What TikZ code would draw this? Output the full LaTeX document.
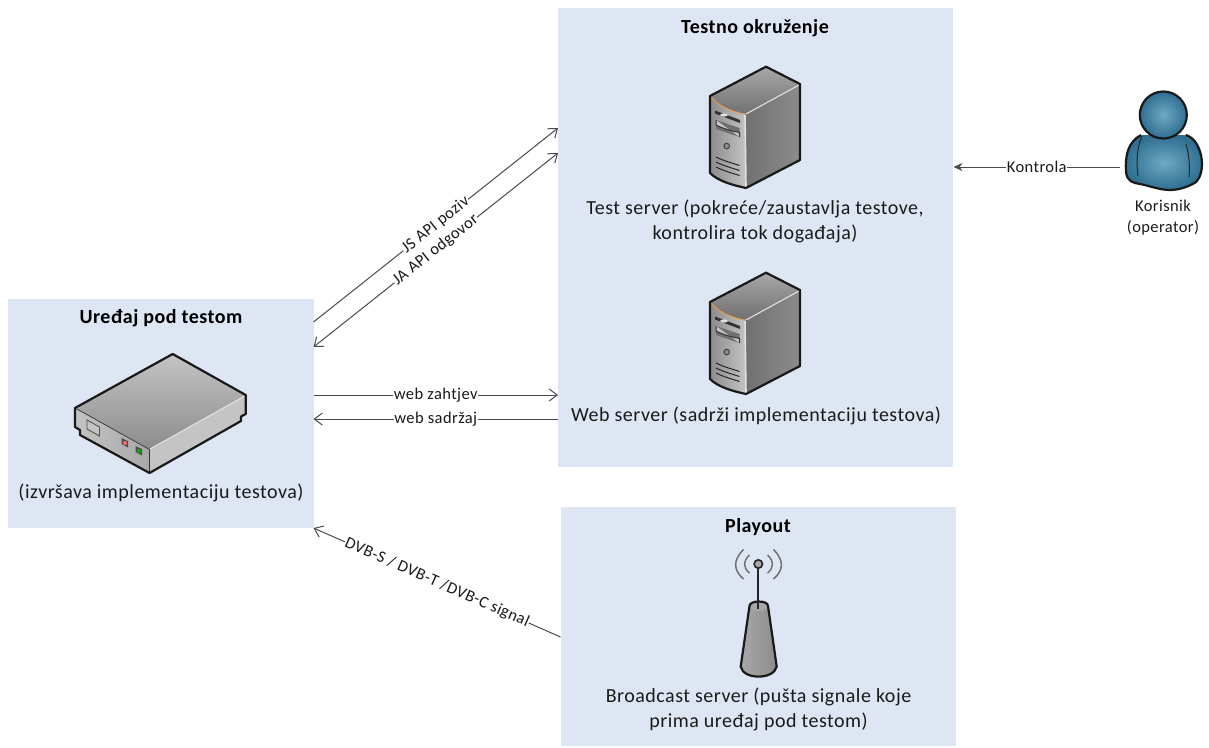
\documentclass[tikz,border=0pt]{standalone}
\usepackage{fontspec}
\setmainfont{Carlito}
\usetikzlibrary{arrows.meta}
\definecolor{panelblue}{HTML}{DFE6F3}
\definecolor{linegray}{HTML}{4A4A4A}
\definecolor{txt}{HTML}{1A1A1A}
\definecolor{pmid}{HTML}{6FA8C2}
\definecolor{pout}{HTML}{2F6F92}
\definecolor{g1}{HTML}{E0E0E0}
\definecolor{g2}{HTML}{C4C4C4}
\definecolor{g3}{HTML}{A8A8A8}
\definecolor{g4}{HTML}{8C8C8C}
\definecolor{g5}{HTML}{707070}
\definecolor{g6}{HTML}{505050}
\tikzset{
  panel/.style={fill=panelblue,draw=none,inner sep=0pt,outer sep=0pt},
  body/.style={font=\fontsize{20}{25}\selectfont\addfontfeature{LetterSpace=2.5},text=txt,inner sep=0pt,align=center},
  head/.style={font=\fontsize{20}{25}\selectfont\bfseries\addfontfeature{LetterSpace=2.5},text=black,inner sep=0pt,align=center},
  small/.style={font=\fontsize{16.5}{21}\selectfont\addfontfeature{LetterSpace=2.5},text=txt,inner sep=0pt,align=center},
  conn/.style={draw=linegray,line width=1pt,-{Straight Barb[length=8pt,width=12pt,line width=1pt]}},
  conn2/.style={draw=linegray,line width=1pt,{Straight Barb[length=8pt,width=12pt,line width=1pt]}-{Straight Barb[length=8pt,width=12pt,line width=1pt]}},
  ctl/.style={draw=linegray,line width=1pt,-{Stealth[length=9pt,width=8pt]}},
  lab/.style={font=\fontsize{16.5}{18}\selectfont\addfontfeature{LetterSpace=2.5},text=txt,fill=white,inner xsep=0.5pt,inner ysep=0pt,sloped},
  outline/.style={draw=black!90,line width=2.2pt,line join=round},
  thinline/.style={draw=black!80,line width=1pt},
  server/.pic={
    \shade[shading angle=20,top color=g3,bottom color=g5] (0,30)--(56,0.7)--(90,18)--(35,48) .. controls (22,46) and (8,40) .. (0,30)--cycle;
    \shade[left color=g4,right color=g2] (0,30) .. controls (8,40) and (22,46) .. (35,48)--(36,122) .. controls (22,119) and (8,115) .. (0,107)--cycle;
    \shade[shading angle=60,left color=g5,middle color=g2,right color=g4] (35,48)--(90,18)--(90,94)--(36,122)--cycle;
    \draw[draw=g1,line width=1.1pt] (36,48)--(89,19);
    \draw[draw=g1,line width=1.6pt] (35,49)--(36,121);
    \draw[draw=orange!50!brown!80!white,line width=1pt] (1,31) .. controls (8,40) and (22,46) .. (35,48);
    \fill[black!80] (5,44.5)--(30,54)--(30,57)--(5,47.5)--cycle;
    \fill[g1] (14,49) ellipse (4 and 1.6);
    \fill[g5] (6,54)--(29.5,62)--(29.5,71)--(6,63)--cycle;
    \draw[thinline,fill=g2] (6,54)--(6,59) .. controls (14,63) and (22,65) .. (29.5,66.5)--(29.5,71);
    \draw[draw=black!75,line width=1pt,fill=g4] (16.7,80) circle (2.8);
    \foreach \yy in {0,5,10}{\draw[draw=black!85,line width=1pt] (6,91+\yy) .. controls (14,95+\yy) and (22,97+\yy) .. (29.5,99.5+\yy);}
    \draw[outline] (0,30)--(56,0.7)--(90,18)--(90,94)--(36,122) .. controls (22,119) and (8,115) .. (0,107)--cycle;
  }
}
\begin{document}
\begin{tikzpicture}[x=1pt,y=-1pt]
\useasboundingbox (0,0) rectangle (1209,747);
% panels
\node[panel,minimum width=306pt,minimum height=229pt] (dut) at (161,413.5) {};
\node[panel,minimum width=395pt,minimum height=459pt] (env) at (755.5,237.5) {};
\node[panel,minimum width=395pt,minimum height=239pt] (play) at (758.5,626.5) {};
% texts
\node[head] (envtitle) at (755,28) {Testno okruženje};
\node[body] (testtxt) at (755,221.5) {Test server (pokreće/zaustavlja testove,\\kontrolira tok događaja)};
\node[body] (webtxt) at (756,416) {Web server (sadrži implementaciju testova)};
\node[head] (playtitle) at (758,527) {Playout};
\node[body] (broadtxt) at (758.5,709) {Broadcast server (pušta signale koje\\prima uređaj pod testom)};
\node[head] (duttitle) at (161,318) {Uređaj pod testom};
\node[body] (duttxt) at (161,493) {(izvršava implementaciju testova)};
\node[small] (usertxt) at (1163,218) {Korisnik\\(operator)};
% servers
\pic at (710,66) {server};
\pic at (710,272) {server};
% device
\shade[shading angle=0,top color=g2,bottom color=g4] (75,408)--(172.7,354)--(245.7,395)--(149.5,449.5)--cycle;
\shade[left color=g2,right color=g3] (75,408)--(149.5,449.5)--(149.5,473)--(80,435)--(80,430)--(75,427)--cycle;
\shade[left color=g2,middle color=g3,right color=g2] (149.5,449.5)--(245.7,395)--(245.7,414)--(241,416.5)--(241,421)--(149.5,473)--cycle;
\draw[draw=g1,line width=1.1pt] (150,449)--(244,396.5);
\draw[draw=black!80,line width=.7pt] (76,408.5)--(149.5,449.5)--(149.5,472);
\draw[draw=g6,line width=.9pt,fill=g2] (87,420)--(99.5,427)--(99.5,436)--(87,429)--cycle;
\fill[g6] (121.5,438) -- (128,441) -- (128,447.5) -- (121.5,444) -- cycle;
\fill[red!60!white] (125,443) circle (2);
\fill[g6] (135.5,446) -- (142,449) -- (142,455.5) -- (135.5,452) -- cycle;
\fill[green!70!black] (139,451) circle (2);
\draw[outline] (75,408)--(172.7,354)--(245.7,395)--(245.7,414)--(241,416.5)--(241,421)--(149.5,473)--(80,435)--(80,430)--(75,427)--cycle;
% antenna
\draw[draw=g5,line width=1.5pt] (743.5,549.5) .. controls (733,560) and (733,570) .. (743.5,579);
\draw[draw=g5,line width=1.5pt] (749.5,555) .. controls (743,561) and (743,568) .. (749.5,573);
\draw[draw=g5,line width=1.5pt] (767.5,555) .. controls (774,561) and (774,568) .. (767.5,573);
\draw[draw=g5,line width=1.5pt] (773.5,549.5) .. controls (784,560) and (784,570) .. (773.5,579);
\shade[left color=g3,middle color=g5,right color=g4] (749.5,606) -- (740.7,666.5) .. controls (743,680) and (774,680) .. (776.7,666.5) -- (768,606) -- cycle;
\fill[g3] (758.7,606) ellipse (9 and 5);
\draw[outline] (749.5,606) -- (740.7,666.5) .. controls (743,680) and (774,680) .. (776.7,666.5) -- (768,606) .. controls (768,600) and (749.5,600) .. (749.5,606) -- cycle;
\draw[draw=black!85,line width=2pt] (758.3,568) -- (758.3,609);
\draw[draw=black!85,line width=1.6pt,fill=g3] (758.3,564) circle (4.2);
% person
\shade[inner color=pmid,outer color=pout] (1141,135) .. controls (1128,142) and (1125,155) .. (1126,172) .. controls (1127,182) and (1134,183) .. (1140,184) .. controls (1150,186) and (1160,190) .. (1170,190) .. controls (1180,190) and (1190,186) .. (1196,182) .. controls (1202,176) and (1203,165) .. (1201,155) .. controls (1198,144) and (1194,138) .. (1186,135) -- cycle;
\draw[outline] (1141,135) .. controls (1128,142) and (1125,155) .. (1126,172) .. controls (1127,182) and (1134,183) .. (1140,184) .. controls (1150,186) and (1160,190) .. (1170,190) .. controls (1180,190) and (1190,186) .. (1196,182) .. controls (1202,176) and (1203,165) .. (1201,155) .. controls (1198,144) and (1194,138) .. (1186,135);
\draw[draw=black!85,line width=1pt] (1142,136) .. controls (1137,148) and (1136,160) .. (1138,176);
\draw[draw=black!85,line width=1pt] (1186,144) .. controls (1189,155) and (1190,165) .. (1189,177);
\shade[outline,inner color=pmid,outer color=pout] (1163.3,115) circle (23.5);
% connector ends
\coordinate (dutA) at (313.5,322);
\coordinate (dutB) at (313.5,347);
\coordinate (dutC) at (313.5,395);
\coordinate (dutD) at (313.5,419);
\coordinate (dutE) at (313.5,528);
\coordinate (envA) at (558,128);
\coordinate (envB) at (558,153);
\coordinate (envC) at (558,395);
\coordinate (envD) at (558,419);
\coordinate (envE) at (953.5,167);
\coordinate (playE) at (560.5,637);
\coordinate (userE) at (1120,167);
% connectors
\draw[conn] (dutA) -- node[lab,pos=.5] (l1) {JS API poziv} (envA);
\draw[conn2] (dutB) -- node[lab,pos=.5] (l2) {JA API odgovor} (envB);
\draw[conn] (dutC) -- node[lab,pos=.5] (l3) {web zahtjev} (envC);
\draw[conn] (envD) -- node[lab,pos=.5] (l4) {web sadržaj} (dutD);
\draw[conn] (playE) -- node[lab,pos=.5] (l5) {DVB-S / DVB-T /DVB-C signal} (dutE);
\draw[ctl] (userE) -- node[lab,pos=.5] (l6) {Kontrola} (envE);
\end{tikzpicture}
\end{document}
